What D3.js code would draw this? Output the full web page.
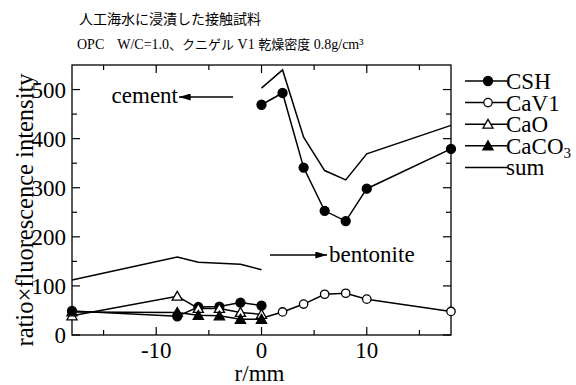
<!DOCTYPE html>
<html>
<head>
<meta charset="utf-8">
<script src="https://cdn.jsdelivr.net/npm/d3@7"></script>
<style>
  body { margin: 0; background: #fff; }
  svg text { font-family: "Liberation Serif", "Times New Roman", "Noto Sans CJK JP", serif; }
</style>
</head>
<body>
<div id="chart"></div>
<script>
// data
const csh = [[-18, 49], [-8, 38], [-6, 57], [-4, 58], [-2, 66], [0, 60],
             [0, 469], [2, 493], [4, 341], [6, 253], [8, 232], [10, 298], [18, 379]]
const cav1 = [[0, 34], [2, 47], [4, 63], [6, 83], [8, 85], [10, 73], [18, 48]]
const cao = [[-18, 39], [-8, 79], [-6, 54], [-4, 54], [-2, 46], [0, 42]]
const caco3 = [[-18, 47], [-8, 46], [-6, 40], [-4, 39], [-2, 32], [0, 32]]
const sumLeft = [[-18, 112], [-8, 159], [-6, 148], [-4, 146], [-2, 144], [0, 133]]
const sumRight = [[0, 503], [2, 540], [4, 403], [6, 335], [8, 316], [10, 369], [18, 427]]

const xMajor = [-10, 0, 10]
const xMinor = [-15, -5, 5, 15]
const yMajor = [0, 100, 200, 300, 400, 500]
const yMinor = [50, 150, 250, 350, 450]

const width = 576
const height = 385
const margin = {top: 65, right: 125, bottom: 50, left: 72}
const fontSize = '23px'

const svg = d3.select('#chart').append('svg')
  .attr('width', width)
  .attr('height', height)

const x = d3.scaleLinear().domain([-18, 18]).range([margin.left, width - margin.right])
const y = d3.scaleLinear().domain([0, 550]).range([height - margin.bottom, margin.top])

const x0 = x.range()[0], x1 = x.range()[1]
const y0 = y.range()[0], y1 = y.range()[1]

// frame
svg.append('rect')
  .attr('x', x0).attr('y', y1)
  .attr('width', x1 - x0).attr('height', y0 - y1)
  .style('fill', 'none').style('stroke', '#000').style('stroke-width', 1.3)

const tick = (x1_, y1_, x2_, y2_) => svg.append('line')
  .attr('x1', x1_).attr('y1', y1_).attr('x2', x2_).attr('y2', y2_)
  .style('stroke', '#000').style('stroke-width', 1.2)

xMajor.forEach(v => { tick(x(v), y0, x(v), y0 - 8); tick(x(v), y1, x(v), y1 + 8) })
xMinor.forEach(v => { tick(x(v), y0, x(v), y0 - 5); tick(x(v), y1, x(v), y1 + 5) })
yMajor.forEach(v => { tick(x0, y(v), x0 + 8, y(v)); tick(x1, y(v), x1 - 8, y(v)) })
yMinor.forEach(v => { tick(x0, y(v), x0 + 5, y(v)); tick(x1, y(v), x1 - 5, y(v)) })

svg.selectAll('.xlab').data(xMajor).enter().append('text')
  .attr('x', d => x(d)).attr('y', y0 + 23)
  .attr('text-anchor', 'middle').style('font-size', fontSize)
  .text(d => d)

svg.selectAll('.ylab').data(yMajor).enter().append('text')
  .attr('x', x0 - 6).attr('y', d => y(d) + 8)
  .attr('text-anchor', 'end').style('font-size', fontSize)
  .text(d => d)

svg.append('text')
  .attr('x', (x0 + x1) / 2 - 2).attr('y', 381)
  .attr('text-anchor', 'middle').style('font-size', fontSize)
  .text('r/mm')

svg.append('text')
  .attr('transform', `translate(33,210) rotate(-90)`)
  .attr('text-anchor', 'middle').style('font-size', '24.5px')
  .text('ratio×fluorescence intensity')

// titles
const cjk = '"Noto Sans CJK JP", sans-serif'
svg.append('text').attr('x', 79).attr('y', 24).style('font-size', '14px')
  .style('font-family', cjk)
  .text('人工海水に浸漬した接触試料')

const title2 = [['OPC', 0], ['\u3000', 1], ['W/C=1.0', 0], ['、クニゲル', 1], [' V1 ', 0], ['乾燥密度', 1], [' 0.8g/cm³', 0]]
const t2 = svg.append('text').attr('x', 77).attr('y', 49).attr('xml:space', 'preserve')
t2.selectAll('tspan').data(title2).enter().append('tspan')
  .style('font-size', d => d[1] ? '13px' : '14px')
  .style('font-family', d => d[1] ? cjk : null)
  .style('white-space', 'pre')
  .text(d => d[0])

// lines
const line = d3.line().x(d => x(d[0])).y(d => y(d[1]))
const drawLine = (data) => svg.append('path')
  .attr('d', line(data))
  .style('fill', 'none').style('stroke', '#000').style('stroke-width', 1.5)

drawLine(csh.slice(0, 6))
drawLine(csh.slice(6))
drawLine(cav1)
drawLine(cao)
drawLine(caco3)
drawLine(sumLeft)
drawLine(sumRight)

const tri = d3.symbol().type(d3.symbolTriangle).size(45)
const marker = (g, kind, cx, cy) => {
  if (kind == 'fc' || kind == 'oc') {
    g.append('circle').attr('cx', cx).attr('cy', cy).attr('r', kind == 'fc' ? 4.5 : 4.2)
      .style('fill', kind == 'fc' ? '#000' : '#fff').style('stroke', '#000').style('stroke-width', 1.3)
  } else {
    g.append('path').attr('d', tri()).attr('transform', `translate(${cx},${cy + 1})`)
      .style('fill', kind == 'ft' ? '#000' : '#fff').style('stroke', '#000').style('stroke-width', 1.3)
  }
}

const series = [
  {name: 'CSH', data: csh, kind: 'fc'},
  {name: 'CaV1', data: cav1.slice(1), kind: 'oc'},
  {name: 'CaO', data: cao, kind: 'ot'},
  {name: 'CaCO3', data: caco3, kind: 'ft'}
]
const mg = svg.append('g')
series.forEach(s => s.data.forEach(d => marker(mg, s.kind, x(d[0]), y(d[1]))))

// legend
const legendNames = ['CSH', 'CaV1', 'CaO', 'CaCO', 'sum']
const legendKinds = ['fc', 'oc', 'ot', 'ft', null]
legendNames.forEach((n, i) => {
  const ly = 81 + i * 21.6
  tick(465, ly, 507, ly).style('stroke-width', 1.5)
  if (legendKinds[i]) marker(svg, legendKinds[i], 488, ly)
  const t = svg.append('text').attr('x', 506).attr('y', ly + 8).style('font-size', fontSize).text(n)
  if (n == 'CaCO') t.append('tspan').attr('dy', 4).style('font-size', '15px').text('3')
})

// annotations
const defs = svg.append('defs')
defs.append('marker').attr('id', 'ah').attr('viewBox', '0 0 10 6')
  .attr('refX', 10).attr('refY', 3).attr('markerWidth', 12).attr('markerHeight', 7)
  .attr('markerUnits', 'userSpaceOnUse').attr('orient', 'auto')
  .append('path').attr('d', 'M0,0L10,3L0,6Z').style('fill', '#000')

svg.append('line').attr('x1', x(-2.7)).attr('y1', 97).attr('x2', 179).attr('y2', 97)
  .style('stroke', '#000').style('stroke-width', 1.3).attr('marker-end', 'url(#ah)')
svg.append('text').attr('x', 178).attr('y', 103).attr('text-anchor', 'end')
  .style('font-size', fontSize).text('cement')

svg.append('line').attr('x1', 270).attr('y1', 255).attr('x2', 327).attr('y2', 255)
  .style('stroke', '#000').style('stroke-width', 1.3).attr('marker-end', 'url(#ah)')
svg.append('text').attr('x', 329).attr('y', 262).style('font-size', fontSize).text('bentonite')
</script>
</body>
</html>
